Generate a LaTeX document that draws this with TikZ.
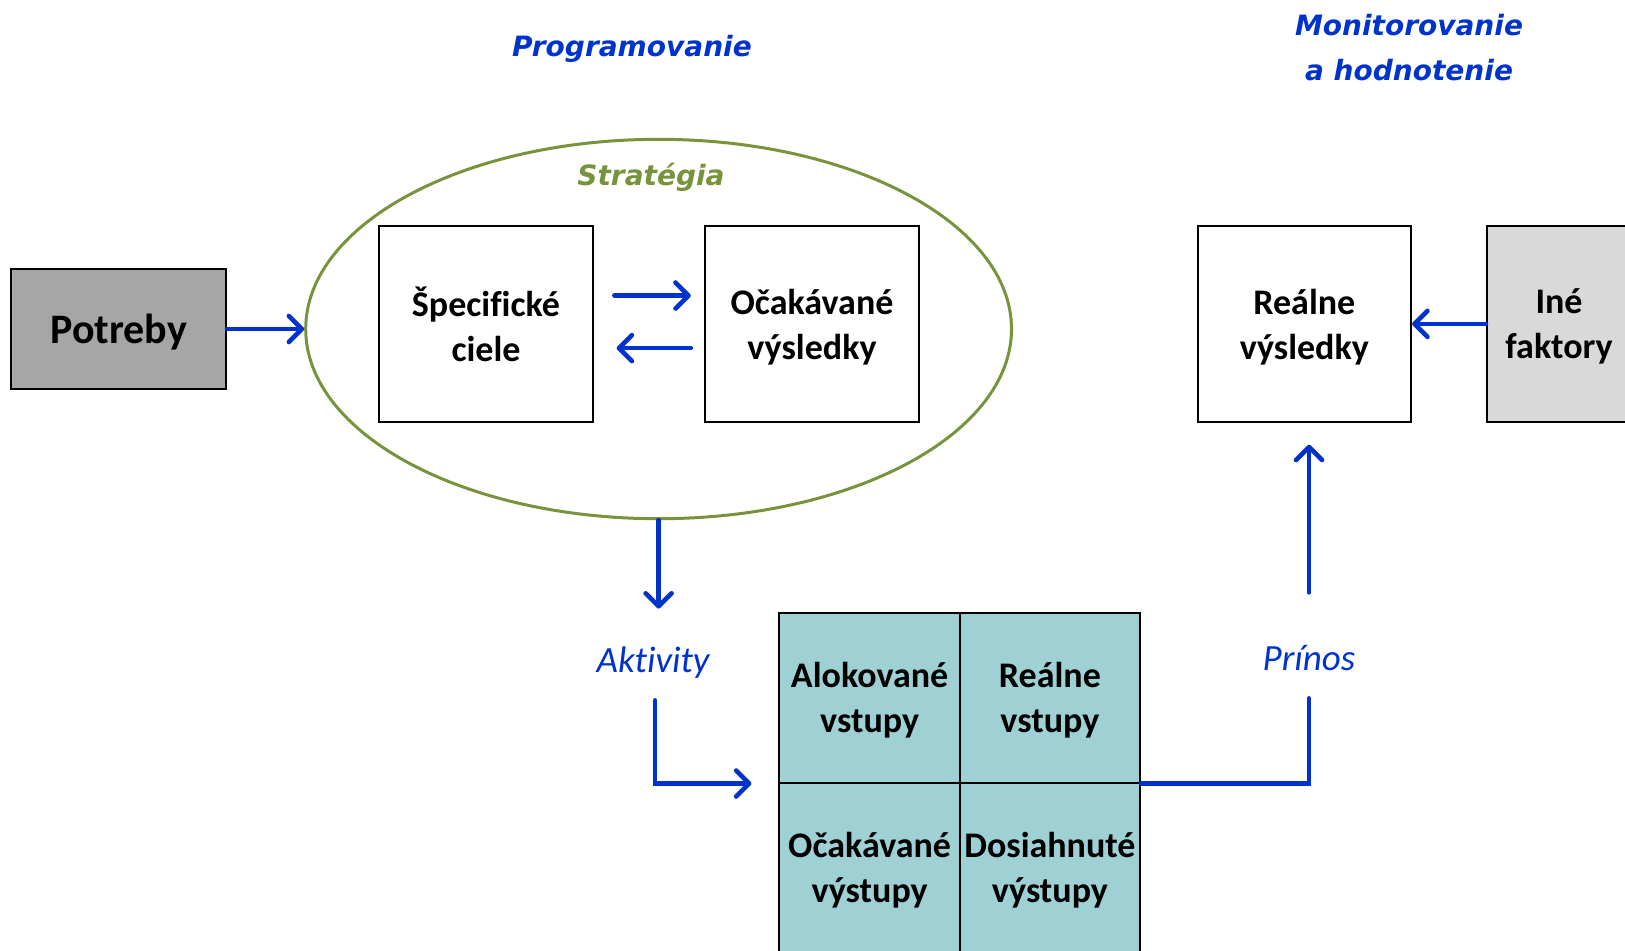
\documentclass[tikz,border=0pt]{standalone}
\usepackage{fontspec}
\setmainfont{Carlito}[Ligatures=NoCommon]
\newfontfamily\headfont{DejaVu Sans}
\usepackage{xcolor}
\usepackage{tikz}
\usetikzlibrary{shapes,arrows.meta,positioning,calc}

\definecolor{arrowblue}{RGB}{0,51,204}
\definecolor{headblue}{RGB}{0,51,204}
\definecolor{strategyolive}{RGB}{119,147,60}
\definecolor{needgray}{RGB}{166,166,166}
\definecolor{factorgray}{RGB}{217,217,217}
\definecolor{cellteal}{RGB}{158,208,212}

\begin{document}
\begin{tikzpicture}[
					x = 0.5pt, y = -0.5pt,
					box/.style = {draw, line width = 1pt, align = center, inner sep = 0pt, text depth = 0pt,
						minimum width = 106.8pt, minimum height = 98pt,
						font = \fontsize{18}{22.5}\selectfont\bfseries},
					cell/.style = {box, fill = cellteal, minimum width = 90.15pt, minimum height = 85pt},
					head/.style = {align = center, text = headblue,
						font = \headfont\fontsize{14}{22.5}\selectfont\bfseries\itshape},
					tag/.style = {text = arrowblue, minimum height = 40pt, inner sep = 0pt, text depth = 0pt,
						font = \fontsize{18.5}{22}\selectfont\itshape},
					flow/.style = {draw = arrowblue, line width = 2.3pt, line cap = round,
						-{Straight Barb[length=6.5pt,width=13pt,round]}}
					]

					\useasboundingbox (0,0) rectangle (1625,950);

					\node[head] (prog) at (632,49) {Programovanie};
					\node[head] (monit) at (1409,48) {Monitorovanie\\a hodnotenie};

					\node[box, fill = needgray, minimum width = 107.3pt, minimum height = 60.3pt,
						font = \fontsize{21}{25}\selectfont\bfseries] (needs) at (118.7,329) {Potreby};
					\node[ellipse, draw = strategyolive, line width = 1.5pt, inner sep = 0pt,
						minimum width = 352.9pt, minimum height = 189.7pt] (strategy) at (658.6,329) {};
					\node[head, text = strategyolive] (stratlabel) at (651,177) {Stratégia};
					\node[box] (goals) at (486,323.9) {Špecifické\\ciele};
					\node[box] (expres) at (812,323.9) {Očakávané\\výsledky};
					\node[box] (realres) at (1304.3,323.9) {Reálne\\výsledky};
					\node[box, fill = factorgray, minimum width = 72pt] (factors) at (1559,323.9) {Iné\\faktory};

					\node[tag] (activities) at (653,660) {Aktivity};
					\node[tag] (benefit) at (1309,658) {Prínos};

					\node[cell] (allocin) at (869.6,697.5) {Alokované\\vstupy};
					\node[cell] (realin) at (1049.9,697.5) {Reálne\\vstupy};
					\node[cell] (expout) at (869.6,867.5) {Očakávané\\výstupy};
					\node[cell] (achout) at (1049.9,867.5) {Dosiahnuté\\výstupy};

					\draw[flow] (needs) -- (strategy);
					\draw[flow, shorten <= 10.3pt, shorten >= 6.7pt] ([yshift=14.2pt]goals.east) -- ([yshift=14.2pt]expres.west);
					\draw[flow, shorten <= 6.7pt, shorten >= 11.4pt] ([yshift=-12.1pt]expres.west) -- ([yshift=-12.1pt]goals.east);
					\draw[flow] (factors) -- (realres);

					\draw[flow, shorten >= 5.5pt] (strategy.south) -- (strategy.south |- activities.north);
					\draw[flow, shorten >= 13.5pt] ([xshift=1pt]activities.south) |- (allocin.south west);
					\draw[flow, -] (realin.south east) -| (benefit.south);
					\draw[flow, shorten <= 12.6pt, shorten >= 10.9pt] (benefit.north) -- (benefit.north |- realres.south);

				\end{tikzpicture}
\end{document}
